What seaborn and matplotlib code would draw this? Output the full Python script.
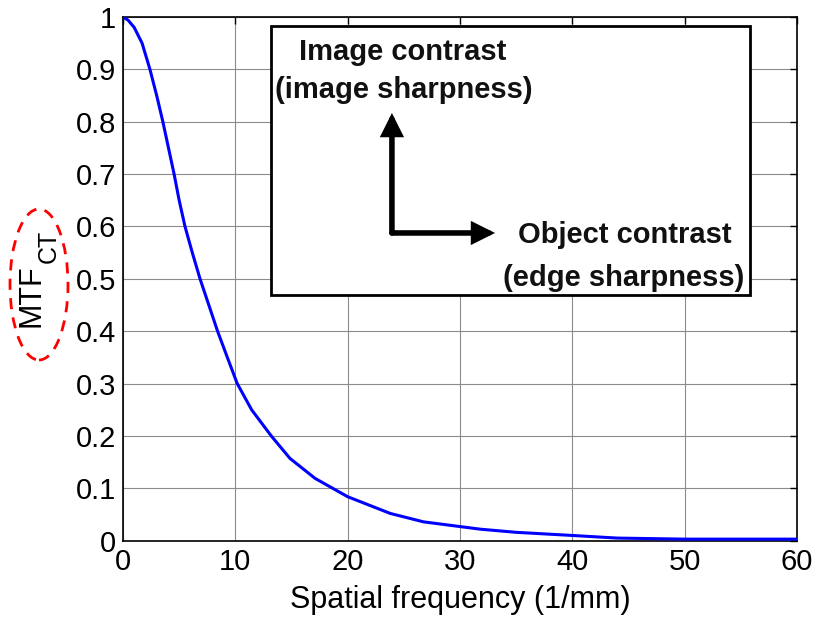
import numpy as np
import pandas as pd
import matplotlib
matplotlib.use('Agg')
import matplotlib.pyplot as plt
import seaborn as sns
from matplotlib.patches import Ellipse, Rectangle

# MTF curve
freq = [0, 0.45, 1.0, 1.7, 2.4, 3.0, 3.55, 4.55, 5.0, 5.52, 6.17, 6.86, 8.42, 9.29,
        10.17, 11.45, 13.2, 14.87, 17.1, 20, 23.8, 26.75, 30, 31.8, 35, 40,
        44, 50, 60]
mtf = [1.0, 0.994, 0.98, 0.95, 0.9, 0.85, 0.8, 0.7, 0.65, 0.6, 0.55, 0.5, 0.4, 0.35,
       0.3, 0.25, 0.2, 0.157, 0.119, 0.084, 0.052, 0.036, 0.027, 0.022, 0.016,
       0.01, 0.005, 0.003, 0.003]
x_ticks = [0, 10, 20, 30, 40, 50, 60]
y_ticks = [0, 0.1, 0.2, 0.3, 0.4, 0.5, 0.6, 0.7, 0.8, 0.9, 1]
y_tick_labels = ['0', '0.1', '0.2', '0.3', '0.4', '0.5', '0.6', '0.7', '0.8', '0.9', '1']

sns.set_style('white')
plt.rcParams['font.family'] = ['Liberation Sans', 'DejaVu Sans']
plt.rcParams['text.color'] = 'black'

df = pd.DataFrame({'freq': freq, 'mtf': mtf})

fig = plt.figure(figsize=(8.21, 6.2), dpi=100)
ax = fig.add_axes([0.1498, 0.1279, 0.821, 0.8447])

sns.lineplot(data=df, x='freq', y='mtf', color='#0000ff', linewidth=2.2, ax=ax, zorder=3)

ax.set_xlim(0, 60)
ax.set_ylim(0, 1)
ax.set_xticks(x_ticks)
ax.set_yticks(y_ticks)
ax.set_yticklabels(y_tick_labels)
ax.grid(True, color='#8c8c8c', linewidth=0.8)
ax.tick_params(direction='in', top=True, right=True, length=5, width=1,
               labelsize=21, colors='black', pad=5)
for s in ax.spines.values():
    s.set_color('black')
    s.set_linewidth(1.2)

ax.set_xlabel('Spatial frequency (1/mm)', fontsize=22, labelpad=7, color='black')
ax.set_ylabel('')

# y label: MTF with a large MATLAB-like subscript
fig.text(31.5 / 821, 1 - 296 / 620, 'MTF', rotation=90, fontsize=22,
         ha='center', va='center', color='black')
fig.text(49 / 821, 1 - 246 / 620, 'CT', rotation=90, fontsize=18,
         ha='center', va='center', color='black')

# inset box with explanatory arrows
ax.add_patch(Rectangle((0.2196, 0.469), 0.7107, 0.514, transform=ax.transAxes,
                       facecolor='white', edgecolor='black', linewidth=2, zorder=5))
corner = (0.399, 0.5876)
for tip in [(0.399, 0.8167), (0.552, 0.5876)]:
    ax.annotate('', xy=tip, xytext=corner, xycoords='axes fraction',
                arrowprops=dict(arrowstyle='-|>,head_width=0.55,head_length=1.1',
                                lw=4, color='black', shrinkA=0, shrinkB=0,
                                capstyle='round', joinstyle='miter'),
                zorder=6)

txt = dict(transform=ax.transAxes, ha='center', va='center', fontsize=21,
           fontweight='bold', color='#111111', zorder=7)
ax.text(0.415, 0.933, 'Image contrast', **txt)
ax.text(0.417, 0.8606, '(image sharpness)', **txt)
ax.text(0.745, 0.5837, 'Object contrast', **txt)
ax.text(0.7426, 0.5016, '(edge sharpness)', **txt)

# red dashed ellipse around the y label
fig.add_artist(Ellipse((39 / 821, 1 - 284.5 / 620), 58 / 821, 151 / 620,
                       transform=fig.transFigure, fill=False, edgecolor='#ff0000',
                       linestyle=(0, (4, 3)), linewidth=2))

fig.savefig('out.png', dpi=100)
